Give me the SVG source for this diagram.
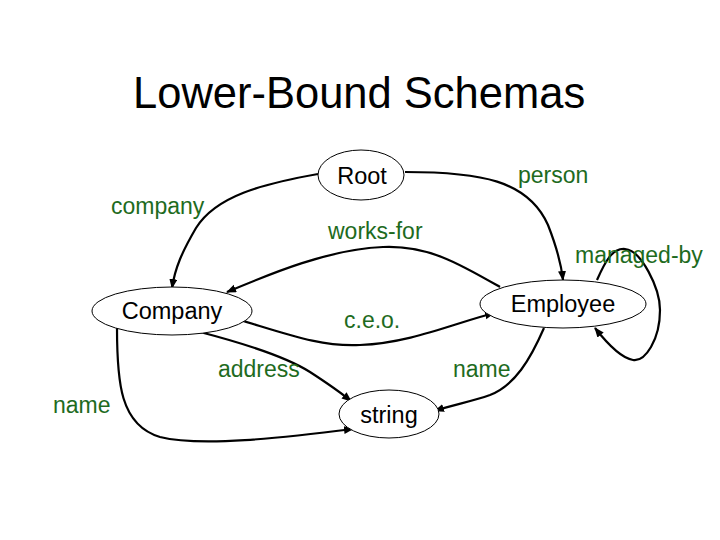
<svg xmlns="http://www.w3.org/2000/svg" width="720" height="540" viewBox="0 0 720 540">
<style>
.node ellipse{fill:#fff;stroke:#000;stroke-width:1}
.node text{font-family:"Liberation Sans",Arial,sans-serif;font-size:23.5px;fill:#000;text-anchor:middle}
.edge{fill:none;stroke:#000;stroke-width:2.2}
.lbl{font-family:"Liberation Sans",Arial,sans-serif;font-size:23px;fill:#1e6b1e}
.title{font-family:"Liberation Sans",Arial,sans-serif;font-size:43.5px;fill:#000}
</style>
<defs>
<marker id="arr" markerUnits="userSpaceOnUse" markerWidth="12" markerHeight="10" refX="9" refY="4" orient="auto">
<path d="M0,0 L10,4 L0,8 Z" fill="#000"/>
</marker>
</defs>
<rect width="720" height="540" fill="#fff"/>
<text class="title" x="133" y="108">Lower-Bound Schemas</text>
<g id="connectors">
<path class="edge" marker-end="url(#arr)" d="M318,174 C262,184 216,196 196,228 C182,252 175,268 172,288"/>
<path class="edge" marker-end="url(#arr)" d="M405,172 C480,172 528,180 548,225 C557,248 561,262 563,280"/>
<path class="edge" marker-end="url(#arr)" d="M500,287 C460,264 428,245 383,247 C330,249 272,273 227,292"/>
<path class="edge" marker-end="url(#arr)" d="M240,320 C290,335 322,347 360,345 C410,343 452,324 494,313"/>
<path class="edge" marker-end="url(#arr)" d="M200,332 C250,345 288,358 310,372 C330,385 340,392 351,401"/>
<path class="edge" marker-end="url(#arr)" d="M117,328 C117,382 120,425 160,437 C200,447 282,438 353,429"/>
<path class="edge" marker-end="url(#arr)" d="M544,328 C530,360 515,385 490,395 C470,402 452,405 435,411"/>
<path class="edge" marker-end="url(#arr)" d="M597,280 C605,262 612,248 625,249 C641,250 660,288 660,310 C660,340 645,362 633,360 C621,358 606,342 595,328"/>
</g>
<g id="root" class="node"><ellipse cx="361" cy="175" rx="43" ry="25"/><text x="362" y="184">Root</text></g>
<g id="company" class="node"><ellipse cx="172" cy="311" rx="80" ry="24"/><text x="172" y="319">Company</text></g>
<g id="employee" class="node"><ellipse cx="563" cy="304" rx="83" ry="24"/><text x="563" y="312">Employee</text></g>
<g id="string" class="node"><ellipse cx="389" cy="414" rx="50" ry="24"/><text x="389" y="423">string</text></g>
<g id="labels">
<text class="lbl" x="111" y="214">company</text>
<text class="lbl" x="328" y="239">works-for</text>
<text class="lbl" x="518" y="183">person</text>
<text class="lbl" x="575" y="263">managed-by</text>
<text class="lbl" x="344" y="328">c.e.o.</text>
<text class="lbl" x="218" y="377">address</text>
<text class="lbl" x="453" y="377">name</text>
<text class="lbl" x="53" y="413">name</text>
</g>
</svg>
